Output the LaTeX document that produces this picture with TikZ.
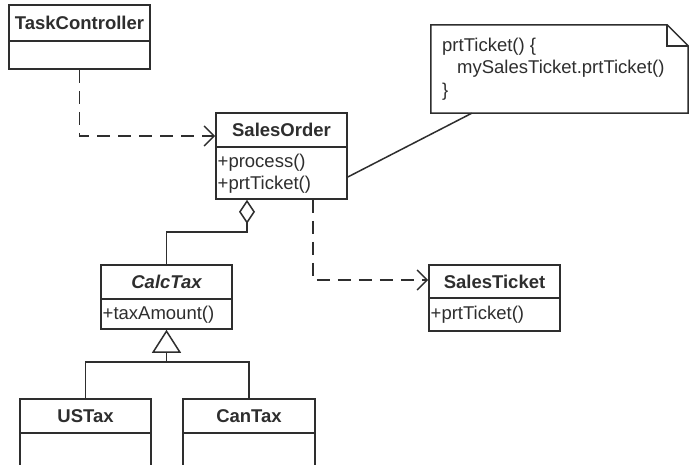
\documentclass[tikz,border=0pt]{standalone}
\usepackage{fontspec}
\setmainfont{Liberation Sans}
\usetikzlibrary{arrows.meta}
\definecolor{ink}{HTML}{2E2E2E}
\begin{document}
\begin{tikzpicture}[x=1pt,y=-1pt,
  cls/.style={draw=ink, line width=1.6pt, inner sep=0pt},
  ttl/.style={font=\fontsize{18.5}{22}\selectfont\bfseries, text=ink, inner sep=0pt},
  mth/.style={font=\fontsize{18.5}{22}\selectfont, text=ink, inner sep=0pt, anchor=west},
  div/.style={draw=ink, line width=1.4pt},
  conn/.style={draw=ink, line width=1.5pt},
  dep/.style={conn, dash pattern=on 13pt off 8pt, -{Straight Barb[length=10pt,width=20pt,line width=1.5pt]}},
]
\path[use as bounding box] (0,0) rectangle (689,464);
\clip (0,0) rectangle (689,464);
\fill[white] (0,0) rectangle (689,464);

% TaskController
\node[cls, minimum width=141pt, minimum height=64pt] (tc) at (79.5,37) {};
\draw[div] (9,41) -- (150,41);
\node[ttl] (tcT) at (79.5,23) {TaskController};

% SalesOrder
\node[cls, minimum width=131pt, minimum height=86pt] (so) at (281.5,156) {};
\draw[div] (216,147) -- (347,147);
\node[ttl] (soT) at (281.5,130) {SalesOrder};
\node[mth] (soM1) at (217.5,163) {+process()};
\node[mth] (soM2) at (217.5,185) {+prtTicket()};

% SalesTicket
\node[cls, minimum width=131pt, minimum height=66pt] (st) at (494.5,298) {};
\draw[div] (429,298) -- (560,298);
\node[ttl] (stT) at (494.5,282) {SalesTicket};
\node[mth] (stM) at (430.5,315) {+prtTicket()};

% CalcTax
\node[cls, minimum width=131pt, minimum height=64pt] (ct) at (166.5,297) {};
\draw[div] (101,299) -- (232,299);
\node[ttl, font=\fontsize{18.5}{22}\selectfont\bfseries\itshape] (ctT) at (166.5,282) {CalcTax};
\node[mth] (ctM) at (102.5,315) {+taxAmount()};

% USTax
\node[cls, minimum width=131pt, minimum height=72pt] (us) at (85.5,435) {};
\draw[div] (20,433) -- (151,433);
\node[ttl] (usT) at (85.5,416) {USTax};

% CanTax
\node[cls, minimum width=132pt, minimum height=72pt] (can) at (249,435) {};
\draw[div] (183,433) -- (315,433);
\node[ttl] (canT) at (249,416) {CanTax};

% Note
\node[minimum width=257pt, minimum height=88pt, inner sep=0pt] (note) at (559.5,69) {};
\draw[draw=ink, line width=1.5pt, line join=miter]
  (note.north west) -- ([xshift=-21pt]note.north east) -- ([yshift=-21pt]note.north east)
  -- (note.south east) -- (note.south west) -- cycle;
\draw[draw=ink, line width=1.5pt]
  ([xshift=-21pt]note.north east) |- ([yshift=-21pt]note.north east);
\node[mth] (n1) at (442,47) {prtTicket() \{};
\node[mth] (n2) at (457,69) {mySalesTicket.prtTicket()};
\node[mth] (n3) at (442,92) {\}};

% Connectors
\draw[dep] (tc.south) |- ([yshift=20pt]so.west);
\draw[dep] ([xshift=31.5pt]so.south) |- ([yshift=18pt]st.west);
\coordinate (aj) at (247,232);
\draw[conn, -{Diamond[open,length=24pt,width=16pt,line width=1.5pt]}]
  (ct.north) |- (aj) -- ([xshift=-34.5pt]so.south);
\coordinate (gj) at (166.5,362);
\draw[conn] (us.north) |- (gj) -| (can.north);
\draw[conn, -{Triangle[open,length=23pt,width=29pt,line width=1.5pt]}] (gj) -- (ct.south);
\draw[conn] ([xshift=41pt]note.south west) -- ([yshift=-21pt]so.east);
\end{tikzpicture}
\end{document}
